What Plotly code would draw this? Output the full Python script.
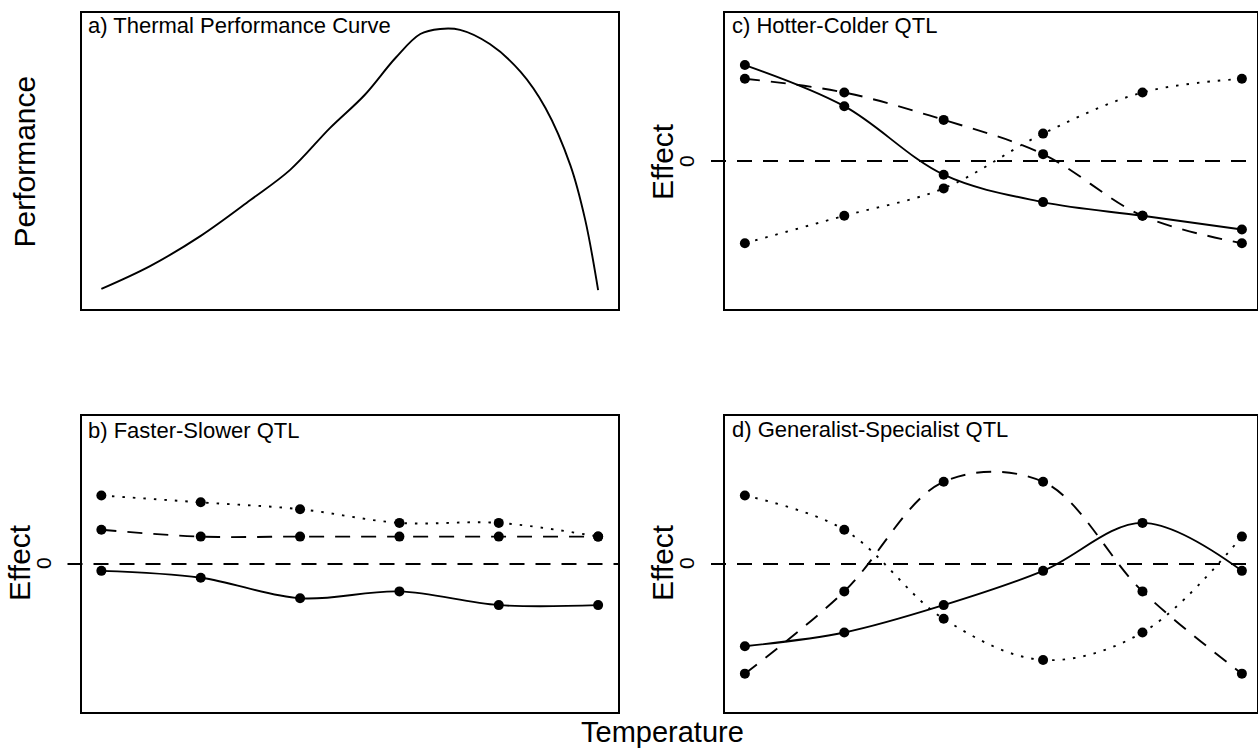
import plotly.graph_objects as go

W, H = 1258, 749

# ---------------- data ----------------
temps = [1, 2, 3, 4, 5, 6]

# a) thermal performance curve
tpc_temp = [1.0, 1.49, 2.0, 2.5, 2.9, 3.3, 3.65, 3.96, 4.21, 4.41, 4.61, 4.91, 5.22, 5.47, 5.72, 5.87, 6.0]
tpc_perf = [6.8, 14.5, 24.7, 36.8, 47.0, 61.1, 72.3, 84.8, 92.9, 94.6, 94.3, 89.5, 80.1, 67.9, 48.6, 30.1, 6.4]

# b) faster-slower QTL
b_solid = [-0.5, -1, -2.5, -2, -3, -3]
b_dashed = [2.5, 2, 2, 2, 2, 2]
b_dotted = [5, 4.5, 4, 3, 3, 2]

# c) hotter-colder QTL
c_solid = [7, 4, -1, -3, -4, -5]
c_dashed = [6, 5, 3, 0.5, -4, -6]
c_dotted = [-6, -4, -2, 2, 5, 6]

# d) generalist-specialist QTL
d_solid = [-6, -5, -3, -0.5, 3, -0.5]
d_dashed = [-8, -2, 6, 6, -2, -8]
d_dotted = [5, 2.5, -4, -7, -5, 2]

titles = ["a) Thermal Performance Curve", "b) Faster-Slower QTL",
          "c) Hotter-Colder QTL", "d) Generalist-Specialist QTL"]

# ---------------- layout helpers ----------------
FONT = "Liberation Sans, Arial, Helvetica, sans-serif"

def px(x):
    return x / W

def py(y):
    return 1 - y / H

# panel boxes in pixels: (left, right, top, bottom)
boxes = {
    "a": (81.5, 618, 13, 309),
    "c": (725, 1257, 13, 309),
    "b": (81.5, 618, 416, 712),
    "d": (725, 1257, 416, 712),
}
axis_ids = {"a": "", "c": "2", "b": "3", "d": "4"}
xranges = {"a": [0.8, 6.2], "b": [0.8, 6.2], "c": [0.8, 6.152], "d": [0.8, 6.152]}

fig = go.Figure()
layout = dict(
    width=W, height=H,
    margin=dict(l=0, r=0, t=0, b=0),
    paper_bgcolor="white", plot_bgcolor="white",
    showlegend=False,
    font=dict(family=FONT, color="black"),
)

for key, (l, r, t, b) in boxes.items():
    i = axis_ids[key]
    ax_common = dict(showline=True, mirror=True, linecolor="black", linewidth=1.8,
                     showgrid=False, zeroline=False, ticks="", showticklabels=False,
                     fixedrange=True)
    layout["xaxis" + i] = dict(domain=[px(l), px(r)], range=xranges[key],
                               anchor="y" + i, **ax_common)
    yr = [0, 100] if key == "a" else [-10.8, 10.8]
    layout["yaxis" + i] = dict(domain=[py(b), py(t)], range=yr,
                               anchor="x" + i, **ax_common)

fig.update_layout(**layout)

LW = 1.9
DASH = "15px,11px"
DOT = "2.5px,8px"

def add_series(key, ys, dash):
    i = axis_ids[key]
    fig.add_trace(go.Scatter(
        x=temps, y=ys, mode="lines+markers",
        line=dict(color="black", width=LW, dash=dash, shape="spline", smoothing=1.0),
        marker=dict(color="black", size=10),
        xaxis="x" + i, yaxis="y" + i, hoverinfo="skip"))

# panel a
fig.add_trace(go.Scatter(x=tpc_temp, y=tpc_perf, mode="lines",
                         line=dict(color="black", width=LW, shape="spline", smoothing=1.0),
                         xaxis="x", yaxis="y", hoverinfo="skip"))

for key, s, d, o in [("b", b_solid, b_dashed, b_dotted),
                     ("c", c_solid, c_dashed, c_dotted),
                     ("d", d_solid, d_dashed, d_dotted)]:
    i = axis_ids[key]
    l, r, t, bt = boxes[key]
    fig.add_shape(type="line", xref="paper", yref="y" + i,
                  x0=px(l - 14), x1=px(r), y0=0, y1=0,
                  line=dict(color="black", width=LW, dash=DASH), layer="below")
    add_series(key, s, "solid")
    add_series(key, d, DASH)
    add_series(key, o, DOT)

# ---------------- text ----------------
ann = []
title_pos = {"a": (85.5, 25.5), "b": (85.5, 430), "c": (729.5, 25.5), "d": (729.5, 429.5)}
for key, txt in zip(["a", "b", "c", "d"], titles):
    x, y = title_pos[key]
    ann.append(dict(text=txt, x=px(x), y=py(y), xref="paper", yref="paper",
                    xanchor="left", yanchor="middle", showarrow=False,
                    font=dict(size=22, family=FONT, color="black")))

ann.append(dict(text="Performance", x=px(24), y=py(161.5), xref="paper", yref="paper",
                textangle=-90, xanchor="center", yanchor="middle", showarrow=False,
                font=dict(size=30, family=FONT, color="black")))
for (ex, ey, zx, zy) in [(19, 563, 43, 563), (662, 162, 686, 161), (662, 563, 686, 563)]:
    ann.append(dict(text="Effect", x=px(ex), y=py(ey), xref="paper", yref="paper",
                    textangle=-90, xanchor="center", yanchor="middle", showarrow=False,
                    font=dict(size=30, family=FONT, color="black")))
    ann.append(dict(text="0", x=px(zx), y=py(zy), xref="paper", yref="paper",
                    textangle=-90, xanchor="center", yanchor="middle", showarrow=False,
                    font=dict(size=21, family=FONT, color="black")))
ann.append(dict(text="Temperature", x=px(662), y=py(732), xref="paper", yref="paper",
                xanchor="center", yanchor="middle", showarrow=False,
                font=dict(size=29, family=FONT, color="black")))

fig.update_layout(annotations=ann)
fig.write_html("out.html")
